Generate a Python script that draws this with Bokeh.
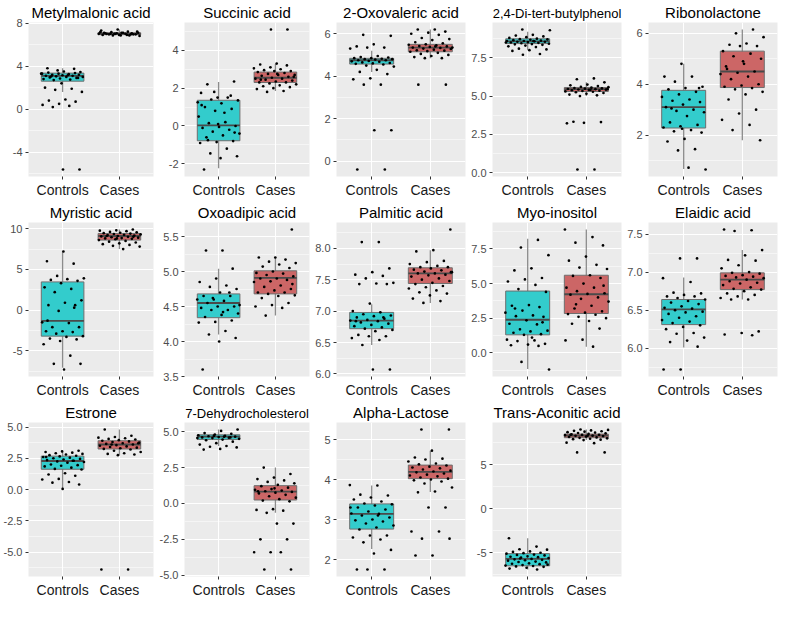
import numpy as np
from bokeh.plotting import figure
from bokeh.layouts import gridplot
from bokeh.models import Range1d, FixedTicker, PrintfTickFormatter, ColumnDataSource
from bokeh.embed import file_html
from bokeh.resources import INLINE

groups = ["Controls", "Cases"]

# ---- data ----
metylmalonic_controls = [3.4, 3.35, 3.3, 3.3, 3.25, 3.2, 3.2, 3.15, 3.1, 3.1, 3.05, 3.0, 3.0, 2.95, 2.9, 2.85, 2.8, 2.75, 2.7,
                         3.45, 3.5, 3.8, 3.75, 3.6, 3.3, 3.15, 3.05, 2.9, 2.4, 2.0, 1.9, 1.8, 1.6, 0.9, 0.8, 0.7, 0.5, 0.4,
                         0.3, 0.2, -5.6, -5.6]
metylmalonic_cases = [7.4, 7.3, 7.2, 7.15, 7.1, 7.1, 7.05, 7.05, 7.0, 7.0, 7.0, 6.95, 6.95, 6.9, 6.9, 6.85, 6.85, 6.8, 7.1,
                      7.0, 6.95, 7.05, 7.15, 6.9, 7.0, 7.2, 6.85, 7.1, 6.95, 7.0]
metylmalonic_box_controls = [1.6, 2.6, 3.1, 3.35, 3.8]
metylmalonic_box_cases = [6.8, 6.92, 7.0, 7.1, 7.4]

succinic_controls = [2.2, 2.35, 1.5, 1.75, 1.5, 1.4, 1.35, 1.2, 1.0, 0.9, 0.8, 0.5, 0.2, 0.15, 0.0, -0.05, -0.1, -0.2, -0.3,
                     -0.4, -0.5, -0.6, -0.8, -0.85, -0.9, -1.2, -1.45, -1.6, -1.7, -2.3, 1.6, 1.8, 1.25, 0.7, -0.75, -0.35,
                     0.1, 1.1]
succinic_cases = [3.3, 3.25, 3.2, 3.1, 3.05, 3.0, 2.95, 2.9, 2.9, 2.85, 2.8, 2.75, 2.7, 2.7, 2.65, 2.6, 2.55, 2.5, 2.5, 2.45,
                  2.4, 2.35, 2.3, 2.3, 2.25, 2.2, 2.15, 2.1, 2.05, 2.0, 1.95, 1.85, 1.8, 2.6, 2.75, 2.45, 5.1, 5.1]
succinic_box_controls = [-2.24, -0.78, 0.03, 1.36, 2.33]
succinic_box_cases = [1.85, 2.3, 2.55, 2.85, 3.27]

oxovaleric_controls = [5.95, 5.9, 5.5, 5.4, 5.35, 5.35, 5.3, 4.95, 4.9, 4.88, 4.85, 4.85, 4.82, 4.8, 4.8, 4.78, 4.75, 4.75,
                       4.72, 4.7, 4.68, 4.65, 4.62, 4.6, 4.58, 4.55, 4.5, 4.45, 4.3, 4.2, 4.1, 3.9, 3.85, 3.6, 3.6, 1.45,
                       1.45, -0.4, -0.4]
oxovaleric_cases = [6.2, 6.2, 6.1, 6.05, 6.0, 5.95, 5.8, 5.75, 5.7, 5.6, 5.55, 5.5, 5.48, 5.45, 5.42, 5.4, 5.38, 5.35, 5.33,
                    5.3, 5.28, 5.25, 5.22, 5.2, 5.18, 5.15, 5.1, 5.05, 5.0, 4.95, 4.9, 4.85, 4.85, 5.35, 5.4, 3.6, 3.6]
oxovaleric_box_controls = [4.2, 4.57, 4.75, 4.84, 5.2]
oxovaleric_box_cases = [4.85, 5.15, 5.35, 5.5, 6.2]

butylphenol_controls = [9.35, 9.3, 9.0, 8.95, 8.9, 8.85, 8.8, 8.75, 8.72, 8.7, 8.68, 8.65, 8.62, 8.6, 8.6, 8.58, 8.55, 8.55,
                        8.52, 8.5, 8.48, 8.45, 8.42, 8.4, 8.38, 8.35, 8.3, 8.25, 8.2, 8.1, 8.05, 8.0, 7.95, 7.75, 7.7, 8.5,
                        8.6]
butylphenol_cases = [6.15, 6.1, 5.9, 5.75, 5.7, 5.65, 5.6, 5.58, 5.55, 5.52, 5.5, 5.48, 5.46, 5.45, 5.43, 5.42, 5.4, 5.38,
                     5.35, 5.33, 5.3, 5.28, 5.25, 5.2, 5.15, 5.1, 5.05, 5.0, 5.45, 5.4, 3.32, 3.3, 3.25, 3.22, 0.2, 0.2]
butylphenol_box_controls = [8.0, 8.43, 8.57, 8.74, 9.2]
butylphenol_box_cases = [5.0, 5.3, 5.45, 5.56, 5.9]

ribonolactone_controls = [4.8, 4.3, 4.3, 4.1, 3.9, 3.85, 3.8, 3.7, 3.6, 3.5, 3.4, 3.35, 3.3, 3.2, 3.1, 3.0, 2.95, 2.9, 2.75,
                          2.5, 2.4, 2.35, 2.3, 2.2, 2.15, 2.1, 1.85, 1.75, 1.45, 1.4, 0.65, 0.72, 3.05, 3.85, 2.25]
ribonolactone_cases = [6.15, 6.0, 5.85, 5.6, 5.55, 5.5, 5.5, 5.3, 5.2, 5.1, 5.0, 4.8, 4.6, 4.5, 4.45, 4.4, 4.3, 4.2, 4.0,
                       3.95, 3.9, 3.85, 3.8, 3.7, 3.6, 3.4, 3.0, 2.85, 2.6, 2.4, 2.2, 1.8, 4.9, 4.7]
ribonolactone_box_controls = [0.67, 2.28, 3.1, 3.76, 4.8]
ribonolactone_box_cases = [1.8, 3.87, 4.5, 5.3, 6.15]

myristic_controls = [7.2, 6.0, 5.7, 4.2, 3.9, 3.8, 3.7, 3.6, 3.3, 2.8, 2.6, 2.2, 1.2, 0.9, 0.6, 0.6, -0.1, -1.5, -1.6, -2.1,
                     -2.1, -2.6, -2.6, -2.7, -2.9, -3.2, -3.3, -3.5, -3.6, -3.8, -4.2, -5.6, -6.6, -6.6, -7.3, -1.3, 0.3]
myristic_cases = [9.9, 9.8, 9.75, 9.7, 9.6, 9.55, 9.5, 9.45, 9.4, 9.35, 9.3, 9.25, 9.2, 9.15, 9.1, 9.05, 9.0, 8.95, 8.9,
                  8.85, 8.8, 8.75, 8.7, 8.6, 8.5, 8.4, 8.3, 8.2, 8.1, 8.0, 7.9, 7.8, 7.5, 9.1, 9.0, 8.8]
myristic_box_controls = [-7.1, -3.2, -1.33, 3.46, 7.3]
myristic_box_cases = [7.5, 8.6, 9.1, 9.4, 9.9]

oxoadipic_controls = [5.3, 5.3, 5.04, 4.9, 4.85, 4.8, 4.78, 4.75, 4.7, 4.65, 4.65, 4.6, 4.6, 4.58, 4.55, 4.5, 4.5, 4.48,
                      4.45, 4.45, 4.4, 4.38, 4.35, 4.3, 4.28, 4.27, 4.15, 4.1, 4.05, 4.0, 3.6, 4.7, 4.62, 4.52, 4.42]
oxoadipic_cases = [5.6, 5.2, 5.2, 5.17, 5.14, 5.12, 5.1, 5.07, 5.05, 5.0, 4.98, 4.97, 4.95, 4.93, 4.9, 4.9, 4.88, 4.86,
                   4.85, 4.8, 4.78, 4.75, 4.73, 4.7, 4.7, 4.68, 4.66, 4.65, 4.62, 4.55, 4.52, 4.5, 4.48, 4.37, 4.82]
oxoadipic_box_controls = [4.1, 4.34, 4.55, 4.68, 5.04]
oxoadipic_box_cases = [4.37, 4.68, 4.91, 5.01, 5.2]

palmitic_controls = [8.1, 8.1, 7.68, 7.62, 7.58, 7.56, 7.52, 7.45, 7.44, 7.43, 7.43, 7.12, 7.0, 6.98, 6.95, 6.93, 6.92, 6.9,
                     6.88, 6.86, 6.85, 6.84, 6.82, 6.8, 6.78, 6.76, 6.74, 6.72, 6.7, 6.68, 6.62, 6.6, 6.6, 6.57, 6.54,
                     6.46, 6.07, 6.07, 6.84, 6.9]
palmitic_cases = [8.3, 7.97, 7.95, 7.8, 7.78, 7.75, 7.72, 7.7, 7.7, 7.68, 7.66, 7.65, 7.63, 7.62, 7.6, 7.6, 7.58, 7.57,
                  7.55, 7.52, 7.5, 7.48, 7.45, 7.43, 7.4, 7.38, 7.36, 7.33, 7.3, 7.28, 7.25, 7.2, 7.16, 7.13, 7.62]
palmitic_box_controls = [6.46, 6.72, 6.85, 6.98, 7.11]
palmitic_box_cases = [7.13, 7.44, 7.6, 7.69, 7.97]

myoinositol_controls = [8.15, 7.6, 7.05, 6.1, 5.95, 5.4, 5.3, 5.15, 4.9, 4.6, 4.4, 3.45, 3.4, 3.3, 3.05, 2.9, 2.7, 2.65, 2.6,
                        2.35, 2.1, 2.05, 1.7, 1.6, 1.55, 1.45, 1.35, 1.3, 0.95, 0.9, 0.85, 0.65, 0.6, 0.55, 0.5, -0.65,
                        -1.2, 1.1, 3.2, 2.2]
myoinositol_cases = [8.9, 8.35, 7.95, 7.75, 6.95, 6.65, 6.35, 6.15, 6.05, 5.6, 5.55, 5.4, 5.0, 4.7, 4.7, 4.45, 4.3, 4.25,
                     4.2, 4.0, 3.9, 3.7, 3.4, 3.2, 3.0, 2.9, 2.8, 2.75, 2.6, 2.5, 2.3, 2.1, 1.75, 0.95, 0.9, 0.45, 3.5, 4.85]
myoinositol_box_controls = [-1.16, 1.3, 2.39, 4.46, 8.23]
myoinositol_box_cases = [0.45, 2.84, 4.23, 5.6, 8.9]

elaidic_controls = [7.18, 7.18, 6.92, 6.87, 6.73, 6.72, 6.7, 6.68, 6.68, 6.66, 6.64, 6.62, 6.6, 6.58, 6.55, 6.53, 6.52, 6.5,
                    6.48, 6.47, 6.45, 6.42, 6.4, 6.37, 6.35, 6.33, 6.3, 6.28, 6.25, 6.2, 6.19, 6.14, 6.1, 6.08, 6.02,
                    5.72, 5.72]
elaidic_cases = [7.56, 7.55, 7.54, 7.29, 7.22, 7.16, 7.15, 7.09, 7.05, 7.0, 6.99, 6.98, 6.96, 6.95, 6.94, 6.93, 6.92, 6.9,
                 6.88, 6.86, 6.85, 6.83, 6.8, 6.78, 6.77, 6.75, 6.72, 6.7, 6.68, 6.66, 6.64, 6.64, 6.22, 6.2, 6.18, 6.17]
elaidic_box_controls = [6.01, 6.31, 6.51, 6.64, 6.93]
elaidic_box_cases = [6.64, 6.77, 6.9, 6.99, 7.29]

estrone_controls = [3.1, 3.05, 3.0, 2.95, 2.9, 2.85, 2.8, 2.75, 2.7, 2.65, 2.6, 2.55, 2.5, 2.45, 2.4, 2.35, 2.3, 2.25, 2.2,
                    2.15, 2.0, 1.95, 1.9, 1.85, 1.75, 1.65, 1.6, 1.3, 1.2, 1.1, 0.85, 0.8, 0.6, 0.55, 0.4, 0.05, 2.6, 2.3]
estrone_cases = [4.8, 4.3, 4.2, 4.15, 4.1, 4.05, 4.0, 3.95, 3.9, 3.85, 3.8, 3.75, 3.7, 3.65, 3.6, 3.55, 3.5, 3.45, 3.4, 3.35,
                 3.3, 3.25, 3.2, 3.1, 3.0, 2.9, 2.85, 2.8, 2.75, -6.4, -6.4, 3.6, 3.7]
estrone_box_controls = [0.05, 1.62, 2.28, 2.67, 3.1]
estrone_box_cases = [2.75, 3.24, 3.6, 3.9, 4.8]

dehydro_controls = [5.15, 5.05, 4.9, 4.85, 4.8, 4.75, 4.7, 4.68, 4.65, 4.62, 4.6, 4.58, 4.55, 4.5, 4.45, 4.4, 4.3, 4.2, 4.1,
                    4.0, 3.95, 3.9, 3.8, 3.75, 4.6, 4.7, 4.55, 4.65]
dehydro_cases = [2.5, 2.05, 1.8, 1.7, 1.6, 1.5, 1.4, 1.3, 1.2, 1.1, 1.0, 0.95, 0.9, 0.85, 0.8, 0.75, 0.7, 0.6, 0.5, 0.4, 0.3,
                 0.2, 0.15, -0.4, -0.45, -0.5, -0.65, -1.4, -1.4, -2.5, -2.5, -3.4, -3.4, -3.4, -4.6, -4.6, 1.05, 0.85]
dehydro_box_controls = [4.0, 4.46, 4.66, 4.78, 5.15]
dehydro_box_cases = [-0.65, 0.24, 0.83, 1.24, 2.5]

lactose_controls = [3.86, 3.85, 3.62, 3.6, 3.55, 3.5, 3.45, 3.4, 3.38, 3.35, 3.3, 3.25, 3.2, 3.15, 3.14, 3.1, 3.05, 3.0,
                    2.98, 2.95, 2.9, 2.85, 2.8, 2.75, 2.6, 2.6, 2.55, 2.5, 2.43, 2.24, 2.15, 1.75, 1.75, 1.75, 3.3, 3.1]
lactose_cases = [5.25, 5.25, 4.72, 4.55, 4.52, 4.5, 4.45, 4.4, 4.38, 4.35, 4.32, 4.3, 4.28, 4.25, 4.22, 4.2, 4.18, 4.15,
                 4.12, 4.1, 4.08, 4.05, 4.02, 4.0, 3.98, 3.95, 3.9, 3.8, 3.7, 3.68, 3.3, 3.3, 2.7, 2.7, 2.52, 2.52, 2.1, 2.1]
lactose_box_controls = [2.26, 2.76, 3.14, 3.39, 3.85]
lactose_box_cases = [3.69, 4.02, 4.19, 4.36, 4.72]

aconitic_controls = [-3.35, -4.3, -4.6, -4.65, -4.85, -4.9, -5.0, -5.05, -5.1, -5.2, -5.25, -5.3, -5.4, -5.45, -5.5, -5.55,
                     -5.6, -5.7, -5.75, -5.8, -5.85, -5.9, -6.0, -6.05, -6.1, -6.2, -6.25, -6.3, -6.4, -6.45, -6.5, -6.55,
                     -6.6, -6.7, -6.8, -6.9, -5.65, -6.35]
aconitic_cases = [9.0, 8.95, 8.9, 8.85, 8.8, 8.75, 8.7, 8.65, 8.6, 8.55, 8.5, 8.45, 8.4, 8.38, 8.35, 8.3, 8.28, 8.25, 8.2,
                  8.15, 8.1, 8.05, 8.0, 7.95, 7.9, 7.85, 7.8, 7.5, 7.45, 6.4, 6.4, 8.3, 8.4]
aconitic_box_controls = [-6.9, -6.48, -5.7, -5.1, -3.35]
aconitic_box_cases = [7.8, 8.07, 8.3, 8.48, 9.0]

titles = ["Metylmalonic acid", "Succinic acid", "2-Oxovaleric acid", "2,4-Di-tert-butylphenol", "Ribonolactone",
          "Myristic acid", "Oxoadipic acid", "Palmitic acid", "Myo-inositol", "Elaidic acid",
          "Estrone", "7-Dehydrocholesterol", "Alpha-Lactose", "Trans-Aconitic acid"]

major_ticks = [[-4, 0, 4, 8], [-2, 0, 2, 4], [0, 2, 4, 6], [0, 2.5, 5, 7.5], [2, 4, 6],
               [-5, 0, 5, 10], [3.5, 4, 4.5, 5, 5.5], [6, 6.5, 7, 7.5, 8], [0, 2.5, 5, 7.5], [6, 6.5, 7, 7.5],
               [-5, -2.5, 0, 2.5, 5], [-5, -2.5, 0, 2.5, 5], [2, 3, 4, 5], [-5, 0, 5]]
tick_formats = ["%d", "%d", "%d", "%.1f", "%d",
                "%d", "%.1f", "%.1f", "%.1f", "%.1f",
                "%.1f", "%.1f", "%d", "%d"]

panels = [
    (metylmalonic_controls, metylmalonic_cases, metylmalonic_box_controls, metylmalonic_box_cases),
    (succinic_controls, succinic_cases, succinic_box_controls, succinic_box_cases),
    (oxovaleric_controls, oxovaleric_cases, oxovaleric_box_controls, oxovaleric_box_cases),
    (butylphenol_controls, butylphenol_cases, butylphenol_box_controls, butylphenol_box_cases),
    (ribonolactone_controls, ribonolactone_cases, ribonolactone_box_controls, ribonolactone_box_cases),
    (myristic_controls, myristic_cases, myristic_box_controls, myristic_box_cases),
    (oxoadipic_controls, oxoadipic_cases, oxoadipic_box_controls, oxoadipic_box_cases),
    (palmitic_controls, palmitic_cases, palmitic_box_controls, palmitic_box_cases),
    (myoinositol_controls, myoinositol_cases, myoinositol_box_controls, myoinositol_box_cases),
    (elaidic_controls, elaidic_cases, elaidic_box_controls, elaidic_box_cases),
    (estrone_controls, estrone_cases, estrone_box_controls, estrone_box_cases),
    (dehydro_controls, dehydro_cases, dehydro_box_controls, dehydro_box_cases),
    (lactose_controls, lactose_cases, lactose_box_controls, lactose_box_cases),
    (aconitic_controls, aconitic_cases, aconitic_box_controls, aconitic_box_cases),
]

fills = ["#33CCCC", "#CC6666"]
FONT = "Liberation Sans"


def jitter(n, seed):
    # deterministic horizontal spread (position only)
    k = np.arange(n)
    return ((k * 0.6180339887 + seed) % 1.0 - 0.5) * 0.76


def make_panel(i):
    ctrl, case, bctrl, bcase = panels[i]
    allv = list(ctrl) + list(case) + bctrl + bcase
    lo, hi = min(allv), max(allv)
    span = hi - lo
    p = figure(width=156, height=200, output_backend="svg", toolbar_location=None,
               x_range=Range1d(0.4, 2.6), y_range=Range1d(lo - 0.05 * span, hi + 0.05 * span),
               background_fill_color="#EBEBEB", border_fill_color="white",
               min_border_left=2, min_border_right=3, min_border_top=0, min_border_bottom=2)
    p.outline_line_color = None
    p.title.text = titles[i]
    p.title.align = "center"
    p.title.text_font = FONT
    p.title.text_font_size = "13px" if len(titles[i]) > 19 else "15px"
    p.title.text_font_style = "normal"
    p.title.text_color = "#000000"
    p.title.standoff = 3

    mt = major_ticks[i]
    minor = [(a + b) / 2 for a, b in zip(mt[:-1], mt[1:])]
    step = mt[1] - mt[0]
    minor = [mt[0] - step / 2] + minor + [mt[-1] + step / 2]
    p.yaxis.ticker = FixedTicker(ticks=mt, minor_ticks=minor)
    p.yaxis.formatter = PrintfTickFormatter(format=tick_formats[i])
    p.xaxis.ticker = FixedTicker(ticks=[1, 2], minor_ticks=[])
    p.xaxis.major_label_overrides = {1: groups[0], 2: groups[1]}

    for ax in (p.xaxis, p.yaxis):
        ax.axis_line_color = None
        ax.major_tick_line_color = "#333333"
        ax.major_tick_in = 0
        ax.major_tick_out = 3
        ax.minor_tick_line_color = None
        ax.major_label_text_font = FONT
    p.xaxis.major_label_text_font_size = "14px"
    p.xaxis.major_label_text_color = "#1A1A1A"
    p.xaxis.major_label_standoff = 2
    p.yaxis.major_label_text_font_size = "11px"
    p.yaxis.major_label_text_color = "#4D4D4D"
    p.yaxis.major_label_standoff = 2

    p.xgrid.grid_line_color = "white"
    p.xgrid.grid_line_width = 1.1
    p.ygrid.grid_line_color = "white"
    p.ygrid.grid_line_width = 1.1
    p.ygrid.minor_grid_line_color = "white"
    p.ygrid.minor_grid_line_width = 0.5

    stats = [bctrl, bcase]
    xs = [1, 2]
    # whiskers
    p.segment(x0=xs, x1=xs, y0=[s[0] for s in stats], y1=[s[4] for s in stats],
              line_color="#8C8C8C", line_width=1.3)
    # boxes
    p.vbar(x=xs, width=0.75, bottom=[s[1] for s in stats], top=[s[3] for s in stats],
           fill_color=fills, line_color="#6E6E6E", line_width=1)
    # medians
    p.segment(x0=[x - 0.375 for x in xs], x1=[x + 0.375 for x in xs],
              y0=[s[2] for s in stats], y1=[s[2] for s in stats],
              line_color="#4A4A4A", line_width=1.8)
    # jittered points
    for gi, vals in enumerate([ctrl, case]):
        src = ColumnDataSource(dict(x=xs[gi] + jitter(len(vals), 0.17 + 0.29 * gi + 0.07 * i), y=vals))
        p.scatter("x", "y", source=src, size=2.7, fill_color="black", line_color=None)
    return p


figs = [make_panel(i) for i in range(len(panels))]
grid = gridplot(figs, ncols=5, toolbar_location=None)

open("out.html", "w").write(file_html(grid, INLINE))
